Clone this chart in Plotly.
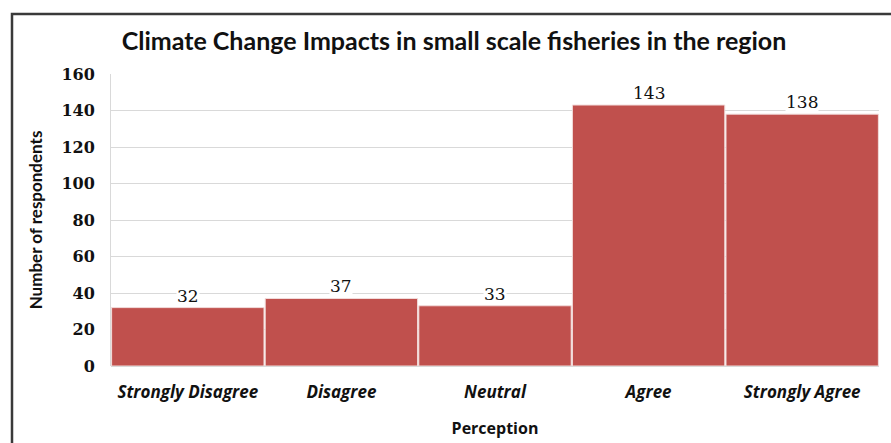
import plotly.graph_objects as go

# Survey responses
categories = ["Strongly Disagree", "Disagree", "Neutral", "Agree", "Strongly Agree"]
respondents = [32, 37, 33, 143, 138]
y_ticks = [0, 20, 40, 60, 80, 100, 120, 140, 160]

BAR = "#C0504D"
W, H = 891, 443
L, R, T, B = 111, 12, 74, 77
pw, ph = W - L - R, H - T - B


def px_x(x):
    return (x - L) / pw


def px_y(y):
    return (H - B - y) / ph


fig = go.Figure()
fig.add_trace(go.Bar(
    x=categories,
    y=respondents,
    marker=dict(color=BAR, line=dict(color="#F2DCDB", width=1)),
    hoverinfo="x+y",
))

# value labels with white boxes that cut the gridlines
for c, v in zip(categories, respondents):
    fig.add_annotation(
        x=c, y=v, text=str(v), showarrow=False, yanchor="bottom", yshift=1,
        bgcolor="white", borderpad=0,
        font=dict(family="DejaVu Serif", size=17, color="#111111"),
    )

# outer frame (left, top)
fig.add_shape(
    type="path", xref="paper", yref="paper",
    path=f"M {px_x(12)} {px_y(445)} L {px_x(12)} {px_y(14)} L {px_x(893)} {px_y(14)}",
    line=dict(color="#3A3A3A", width=2.5),
)

fig.update_layout(
    width=W, height=H,
    margin=dict(l=L, r=R, t=T, b=B, autoexpand=False),
    paper_bgcolor="white", plot_bgcolor="white",
    bargap=0.008,
    showlegend=False,
    title=dict(
        text="<b>Climate Change Impacts in small scale fisheries in the region</b>",
        x=px_x(454), xanchor="center", xref="paper",
        y=1 - 41 / H, yanchor="middle",
        font=dict(family="Lato", size=25, color="#111111"),
    ),
    xaxis=dict(
        automargin=False,
        showgrid=False, showline=False, ticks="",
        tickfont=dict(family="Open Sans", size=17, color="#111111", weight="bold", style="italic"),
        ticklabelstandoff=14,
        title=dict(text="<b>Perception</b>", font=dict(family="Open Sans", size=16, color="#111111"), standoff=20),
    ),
    yaxis=dict(
        automargin=False,
        range=[0, 160], tickvals=y_ticks, showgrid=True, gridcolor="#D9D9D9", gridwidth=1,
        zeroline=True, zerolinecolor="#D9D9D9", showline=True, linecolor="#D9D9D9",
        tickfont=dict(family="DejaVu Serif", size=16, color="#111111", weight="bold"),
        ticklabelstandoff=12,
        title=dict(text="<b>Number of respondents</b>", font=dict(family="Lato", size=17, color="#111111"), standoff=14),
    ),
)

fig.write_html("out.html")
